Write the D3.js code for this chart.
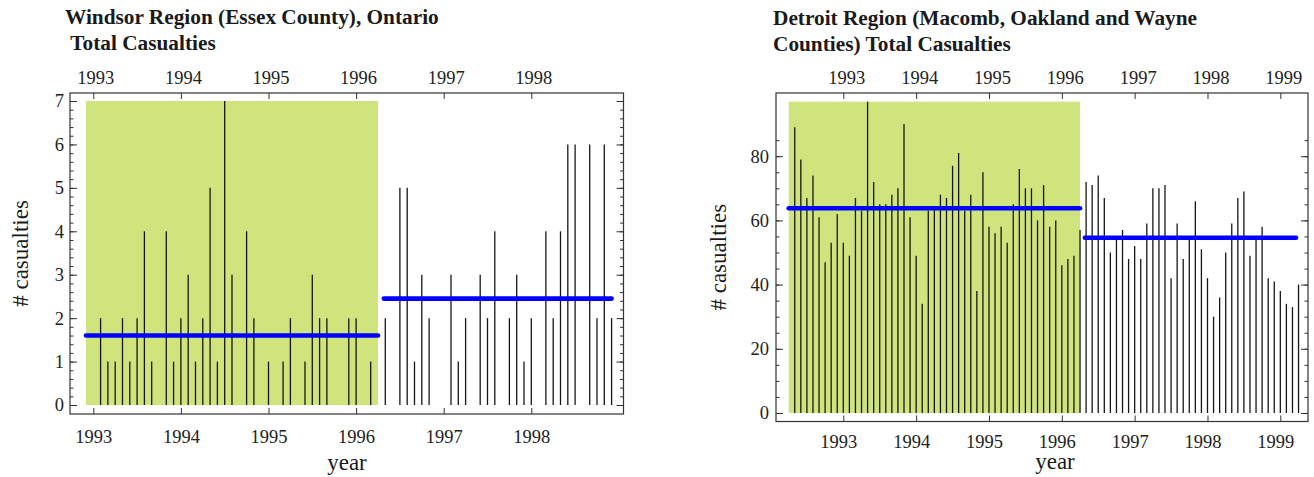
<!DOCTYPE html>
<html>
<head>
<meta charset="utf-8">
<script src="https://cdn.jsdelivr.net/npm/d3@7"></script>
<style>
  body { margin: 0; background: #fff; }
  svg { display: block; }
  text { font-family: "Liberation Serif", "Times New Roman", serif; fill: #1a1a1a; }
  .title { font-weight: bold; font-size: 21.3px; }
  .tick text { font-size: 18.5px; font-family: "Liberation Serif", serif; fill: #222; }
  .tick line { stroke: #333; }
  .axlabel { font-size: 23px; }
</style>
</head>
<body>
<svg id="fig" width="1314" height="477"></svg>
<script>
// Month offsets are counted from January 1993 (0 = Jan 1993).

// Windsor Region (Essex County): monthly casualties, Jan 1993 - Dec 1998
const windsorCasualties = [
  0, 2, 1, 1, 2, 1, 2, 4, 1, 0, 4, 1,
  2, 3, 1, 2, 5, 1, 7, 3, 0, 4, 2, 0,
  1, 0, 1, 2, 0, 1, 3, 2, 2, 0, 0, 2,
  2, 0, 1, 0, 2, 0, 5, 5, 1, 3, 2, 0,
  0, 3, 1, 2, 0, 3, 2, 4, 0, 2, 3, 1,
  2, 0, 4, 2, 4, 6, 6, 0, 6, 2, 6, 2
];
const windsorFirstMonth = 0;
const windsorShadedSpan = [-1, 39];
const windsorPeriodSpans = [[-1, 39], [39.8, 71]];
const windsorPeriodMeans = [1.6, 2.45];
const windsorYears = [1993, 1994, 1995, 1996, 1997, 1998];
const windsorYTicks = [0, 1, 2, 3, 4, 5, 6, 7];
const windsorTitle = ["Windsor Region (Essex County), Ontario", "\u00a0Total Casualties"];

// Detroit Region (Macomb, Oakland and Wayne): monthly casualties, May 1992 - Apr 1999
const detroitCasualties = [
  89, 79, 67, 74, 61, 47, 53, 62,
  53, 49, 67, 63, 97, 72, 65, 65, 68, 70, 90, 61,
  49, 34, 63, 64, 68, 67, 77, 81, 63, 68, 38, 75,
  58, 56, 58, 53, 65, 76, 70, 70, 60, 71, 58, 60,
  46, 48, 49, 57, 72, 71, 74, 67, 50, 54, 57, 48,
  52, 48, 59, 70, 70, 71, 42, 59, 48, 54, 66, 51,
  42, 30, 36, 50, 59, 67, 69, 49, 54, 58, 42, 41,
  38, 34, 33, 40
];
const detroitFirstMonth = -8;
const detroitShadedSpan = [-9, 39];
const detroitPeriodSpans = [[-9, 39], [39.8, 74.6]];
const detroitPeriodMeans = [63.8, 54.6];
const detroitYears = [1993, 1994, 1995, 1996, 1997, 1998, 1999];
const detroitYTicks = [0, 20, 40, 60, 80];
const detroitTitle = ["Detroit Region (Macomb, Oakland and Wayne", "Counties) Total Casualties"];

const svg = d3.select("#fig");

function drawPanel(opt) {
  const g = svg.append("g");
  const x = d3.scaleLinear().domain(opt.xDomain).range([opt.left, opt.right]);
  const y = d3.scaleLinear().domain(opt.yDomain).range([opt.bottom, opt.top]);
  const monthOf = yr => (yr - 1993) * 12;

  const bars = opt.values.map((v, i) => ({ m: opt.firstMonth + i, v }));
  const vmax = d3.max(opt.values);

  // shaded "before" period, up to the largest monthly count
  g.append("rect")
    .attr("x", x(opt.shade[0]))
    .attr("width", x(opt.shade[1]) - x(opt.shade[0]))
    .attr("y", y(vmax))
    .attr("height", y(0) - y(vmax))
    .attr("fill", "#cfe47d");

  // monthly spikes
  g.append("g").selectAll("line")
    .data(bars.filter(d => d.v > 0))
    .join("line")
    .attr("x1", d => x(d.m)).attr("x2", d => x(d.m))
    .attr("y1", y(0)).attr("y2", d => y(d.v))
    .attr("stroke", "#161616")
    .attr("stroke-width", 1.3);

  // period means
  g.append("g").selectAll("line")
    .data(opt.spans.map((s, i) => ({ s, v: opt.means[i] })))
    .join("line")
    .attr("x1", d => x(d.s[0])).attr("x2", d => x(d.s[1]))
    .attr("y1", d => y(d.v)).attr("y2", d => y(d.v))
    .attr("stroke", "#0000ff")
    .attr("stroke-width", 4.6)
    .attr("stroke-linecap", "round");

  // frame
  g.append("rect")
    .attr("x", opt.left).attr("y", opt.top)
    .attr("width", opt.right - opt.left).attr("height", opt.bottom - opt.top)
    .attr("fill", "none").attr("stroke", "#333").attr("stroke-width", 1.2);

  const yearTicks = opt.years.map(monthOf);
  const yearFmt = m => String(Math.round(1993 + m / 12));

  const yMinor = d3.range(0, opt.yTicks[opt.yTicks.length - 1] + opt.minorStep * 2, opt.minorStep)
    .filter(v => v <= opt.yDomain[1]);

  const axes = [
    { gen: d3.axisLeft(y).tickValues(yMinor).tickSize(-3.5).tickFormat(""), tx: opt.left, ty: 0 },
    { gen: d3.axisRight(y).tickValues(yMinor).tickSize(-3.5).tickFormat(""), tx: opt.right, ty: 0 },
    { gen: d3.axisLeft(y).tickValues(opt.yTicks).tickSize(-7).tickPadding(opt.yPad).tickFormat(d3.format("d")), tx: opt.left, ty: 0 },
    { gen: d3.axisRight(y).tickValues(opt.yTicks).tickSize(-7).tickFormat(""), tx: opt.right, ty: 0 },
    { gen: d3.axisTop(x).tickValues(yearTicks).tickSize(-6).tickPadding(opt.topPad).tickFormat(yearFmt), tx: 0, ty: opt.top, dx: opt.topDx },
    { gen: d3.axisBottom(x).tickValues(yearTicks).tickSize(-6).tickPadding(opt.bottomPad).tickFormat(yearFmt), tx: 0, ty: opt.bottom, dx: opt.bottomDx }
  ];
  axes.forEach(a => {
    const ag = g.append("g").attr("transform", `translate(${a.tx},${a.ty})`).call(a.gen);
    ag.select(".domain").remove();
    ag.attr("font-family", null).attr("font-size", null);
    if (a.dx) ag.selectAll("text").attr("dx", a.dx);
  });

  // titles
  opt.title.forEach((t, i) => {
    g.append("text").attr("class", "title")
      .attr("x", opt.titleX).attr("y", opt.titleY + i * 26)
      .text(t);
  });

  g.append("text").attr("class", "axlabel")
    .attr("x", opt.xLabelX).attr("y", opt.xLabelY)
    .attr("text-anchor", "middle").text("year");

  g.append("text").attr("class", "axlabel")
    .attr("transform", `translate(${opt.yLabelX},${(opt.top + opt.bottom) / 2}) rotate(-90)`)
    .attr("text-anchor", "middle").text("# casualties");
}

drawPanel({
  values: windsorCasualties, firstMonth: windsorFirstMonth,
  shade: windsorShadedSpan, spans: windsorPeriodSpans, means: windsorPeriodMeans,
  years: windsorYears, yTicks: windsorYTicks, minorStep: 0.2, title: windsorTitle,
  left: 70, right: 623.5, top: 93, bottom: 414,
  xDomain: [-3.19, 72.63], yDomain: [-0.207, 7.184],
  yPad: 6, topPad: 9, bottomPad: 16, topDx: 2, bottomDx: 0,
  titleX: 65, titleY: 24, xLabelX: 347, xLabelY: 470, yLabelX: 28
});

drawPanel({
  values: detroitCasualties, firstMonth: detroitFirstMonth,
  shade: detroitShadedSpan, spans: detroitPeriodSpans, means: detroitPeriodMeans,
  years: detroitYears, yTicks: detroitYTicks, minorStep: 5, title: detroitTitle,
  left: 776, right: 1308, top: 93, bottom: 421.5,
  xDomain: [-11.09, 76.56], yDomain: [-2.65, 99.69],
  yPad: 7, topPad: 9, bottomPad: 13, topDx: 3, bottomDx: -5,
  titleX: 773, titleY: 25, xLabelX: 1055, xLabelY: 469, yLabelX: 726
});
</script>
</body>
</html>
